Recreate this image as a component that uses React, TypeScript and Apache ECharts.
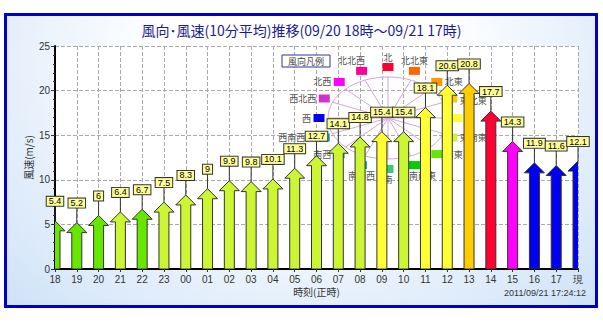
import React, { useEffect, useRef } from "react";
import * as echarts from "echarts";

const categories = ["18","19","20","21","22","23","00","01","02","03","04","05","06","07","08","09","10","11","12","13","14","15","16","17","現"];
const speeds = [5.4,5.2,6,6.4,6.7,7.5,8.3,9,9.9,9.8,10.1,11.3,12.7,14.1,14.8,15.4,15.4,18.1,20.6,20.8,17.7,14.3,11.9,11.6,12.1];
const directions = ["南東","南東","南東","東南東","南東","東南東","東南東","東南東","東南東","東南東","東南東","東南東","東南東","東南東","東南東","東","東南東","東","東","東北東","北","北西","西","西","西"];
const directionNames = ["北","北北東","北東","東北東","東","東南東","南東","南南東","南","南南西","南西","西南西","西","西北西","北西","北北西"];
const directionColors = ["#ff0033","#ff6600","#ff9900","#ffcc00","#ffff33","#ccf533","#66e600","#00cc00","#33cc77","#33aaaa","#22aabb","#2299cc","#0000ee","#cc33cc","#ff00ff","#ff0099"];
const yTicks = { min: 0, max: 25, interval: 5 };

const TITLE = "風向･風速(10分平均)推移(09/20 18時～09/21 17時)";
const TIMESTAMP = "2011/09/21 17:24:12";

function buildRose() {
  const cx = 388, cy = 118;
  const els: any[] = [];
  els.push({ type: "ellipse", shape: { cx, cy, rx: 60, ry: 41 }, style: { fill: "none", stroke: "#d4a8d8", lineWidth: 1 } });
  directionNames.forEach((name, i) => {
    const a = (i * 22.5 * Math.PI) / 180;
    els.push({ type: "line", shape: { x1: cx, y1: cy, x2: cx + 60 * Math.sin(a), y2: cy - 41 * Math.cos(a) }, style: { stroke: "#d4a8d8", lineWidth: 1 } });
  });
  directionNames.forEach((name, i) => {
    const a = (i * 22.5 * Math.PI) / 180;
    const sx = cx + 69 * Math.sin(a);
    const sy = cy - 51 * Math.cos(a);
    els.push({ type: "rect", shape: { x: sx - 5.5, y: sy - 4, width: 11, height: 8 }, style: { fill: directionColors[i] } });
    let tx = sx, ty = sy, align = "center";
    if (i === 15 || i === 0 || i === 1) { ty = sy - 10; if (i === 15) tx = sx - 10; }
    else if (i >= 2 && i <= 6) { tx = sx + 8; align = "left"; if (i === 3) ty = sy + 2.5; }
    else if (i >= 7 && i <= 9) { ty = sy + 10; if (i === 7) tx = sx + 8; }
    else { tx = sx - 8; align = "right"; if (i === 11) tx = sx - 19; }
    els.push({ type: "text", x: tx, y: ty, style: { text: name, fontSize: 9, fill: "#555", align, verticalAlign: "middle", fontFamily: "Noto Sans CJK JP" } });
  });
  els.push({ type: "rect", shape: { x: 282, y: 55, width: 48, height: 12 }, style: { fill: "#fff", stroke: "#333399", lineWidth: 1 } });
  els.push({ type: "text", x: 306, y: 61, style: { text: "風向凡例", fontSize: 9, fill: "#444", align: "center", verticalAlign: "middle", fontFamily: "Noto Sans CJK JP" } });
  return els;
}

export default function App() {
  const ref = useRef<HTMLDivElement>(null);
  useEffect(() => {
    document.body.style.margin = "0";
    const chart = echarts.init(ref.current!, null, { renderer: "svg" });
    const data = speeds.map((v, i) => [i, v]);
    const rose = buildRose();
    chart.setOption({
      animation: false,
      backgroundColor: "transparent",
      title: {
        text: TITLE, left: "center", top: 23, padding: 0,
        textStyle: { color: "#1a1a99", fontSize: 14, fontWeight: "normal", fontFamily: "Noto Sans CJK JP" },
      },
      grid: { left: 55, right: 25, top: 46, bottom: 56, show: true, backgroundColor: "#ffffff", borderWidth: 0 },
      xAxis: {
        type: "category", data: categories, boundaryGap: false,
        name: "時刻(正時)", nameLocation: "middle", nameGap: 17, nameMoveOverlap: false,
        nameTextStyle: { fontSize: 10, color: "#333", fontFamily: "Noto Sans CJK JP" },
        axisLine: { lineStyle: { color: "#000", width: 2 } },
        axisTick: { show: true, length: 3, interval: 0, lineStyle: { color: "#333" } },
        axisLabel: { interval: 0, fontSize: 10, color: "#333", margin: 5, fontFamily: "Liberation Sans" },
        splitLine: { show: true, interval: 0, lineStyle: { color: "#aaa", type: "dashed", width: 1 } },
      },
      yAxis: {
        type: "value", min: yTicks.min, max: yTicks.max, interval: yTicks.interval,
        name: "風速(m/s)", nameLocation: "middle", nameGap: 22, nameRotate: 90, nameMoveOverlap: false,
        nameTextStyle: { fontSize: 10, color: "#333", fontFamily: "Noto Sans CJK JP" },
        axisLine: { show: true, lineStyle: { color: "#000", width: 2 } },
        axisTick: { show: true, length: 4, lineStyle: { color: "#333" } },
        minorTick: { show: true, splitNumber: 5, length: 2, lineStyle: { color: "#333" } },
        axisLabel: { fontSize: 10, color: "#333", margin: 5, fontFamily: "Liberation Sans" },
        splitLine: { show: true, lineStyle: { color: "#aaa", type: "dashed", width: 1 } },
      },
      graphic: [
        { type: "text", x: 586, y: 293, style: { text: TIMESTAMP, fontSize: 9, fill: "#333", align: "right", verticalAlign: "middle", fontFamily: "Liberation Sans" } },
      ],
      series: [
        {
          type: "custom", z: 1, clip: false, silent: true, data: [[0, 0]],
          renderItem: () => ({ type: "group", children: rose }),
        },
        {
          type: "custom", z: 3, clip: true, data,
          renderItem: (params: any, api: any) => {
            const i = api.value(0), v = api.value(1);
            const tip = api.coord([i, v]);
            const base = api.coord([i, 0]);
            const x = tip[0], ty = tip[1], by = base[1];
            const color = directionColors[directionNames.indexOf(directions[params.dataIndex])];
            return {
              type: "polygon",
              shape: { points: [[x, ty], [x + 10, ty + 10], [x + 5, ty + 10], [x + 5, by], [x - 5, by], [x - 5, ty + 10], [x - 10, ty + 10]] },
              style: { fill: color, stroke: "#333", lineWidth: 1 },
            };
          },
        },
        {
          type: "custom", z: 5, clip: false, data,
          renderItem: (params: any, api: any) => {
            const i = api.value(0), v = api.value(1);
            const tip = api.coord([i, v]);
            const x = tip[0], ty = tip[1];
            return {
              type: "group",
              children: [
                { type: "line", shape: { x1: x, y1: ty, x2: x, y2: ty - 15 }, style: { stroke: "#333", lineWidth: 1 } },
                {
                  type: "text", x, y: ty - 19.5,
                  style: {
                    text: String(speeds[params.dataIndex]), fontSize: 9, fill: "#000", align: "center", verticalAlign: "middle",
                    fontFamily: "Liberation Sans", backgroundColor: "#ffff99", borderColor: "#333", borderWidth: 1,
                    padding: [0, 2], lineHeight: 9,
                  },
                },
              ],
            };
          },
        },
      ],
    });
    return () => chart.dispose();
  }, []);
  return (
    <div style={{ position: "relative", width: 603, height: 325, background: "#fff" }}>
      <div style={{
        position: "absolute", left: 4, top: 13, width: 594, height: 295, boxSizing: "border-box",
        border: "3px solid #0000cc",
        background: "radial-gradient(ellipse at 50% 15%, #ffffff 35%, #cfe2f8 100%)",
      }} />
      <div ref={ref} style={{ position: "absolute", left: 0, top: 0, width: 603, height: 325 }} />
    </div>
  );
}
